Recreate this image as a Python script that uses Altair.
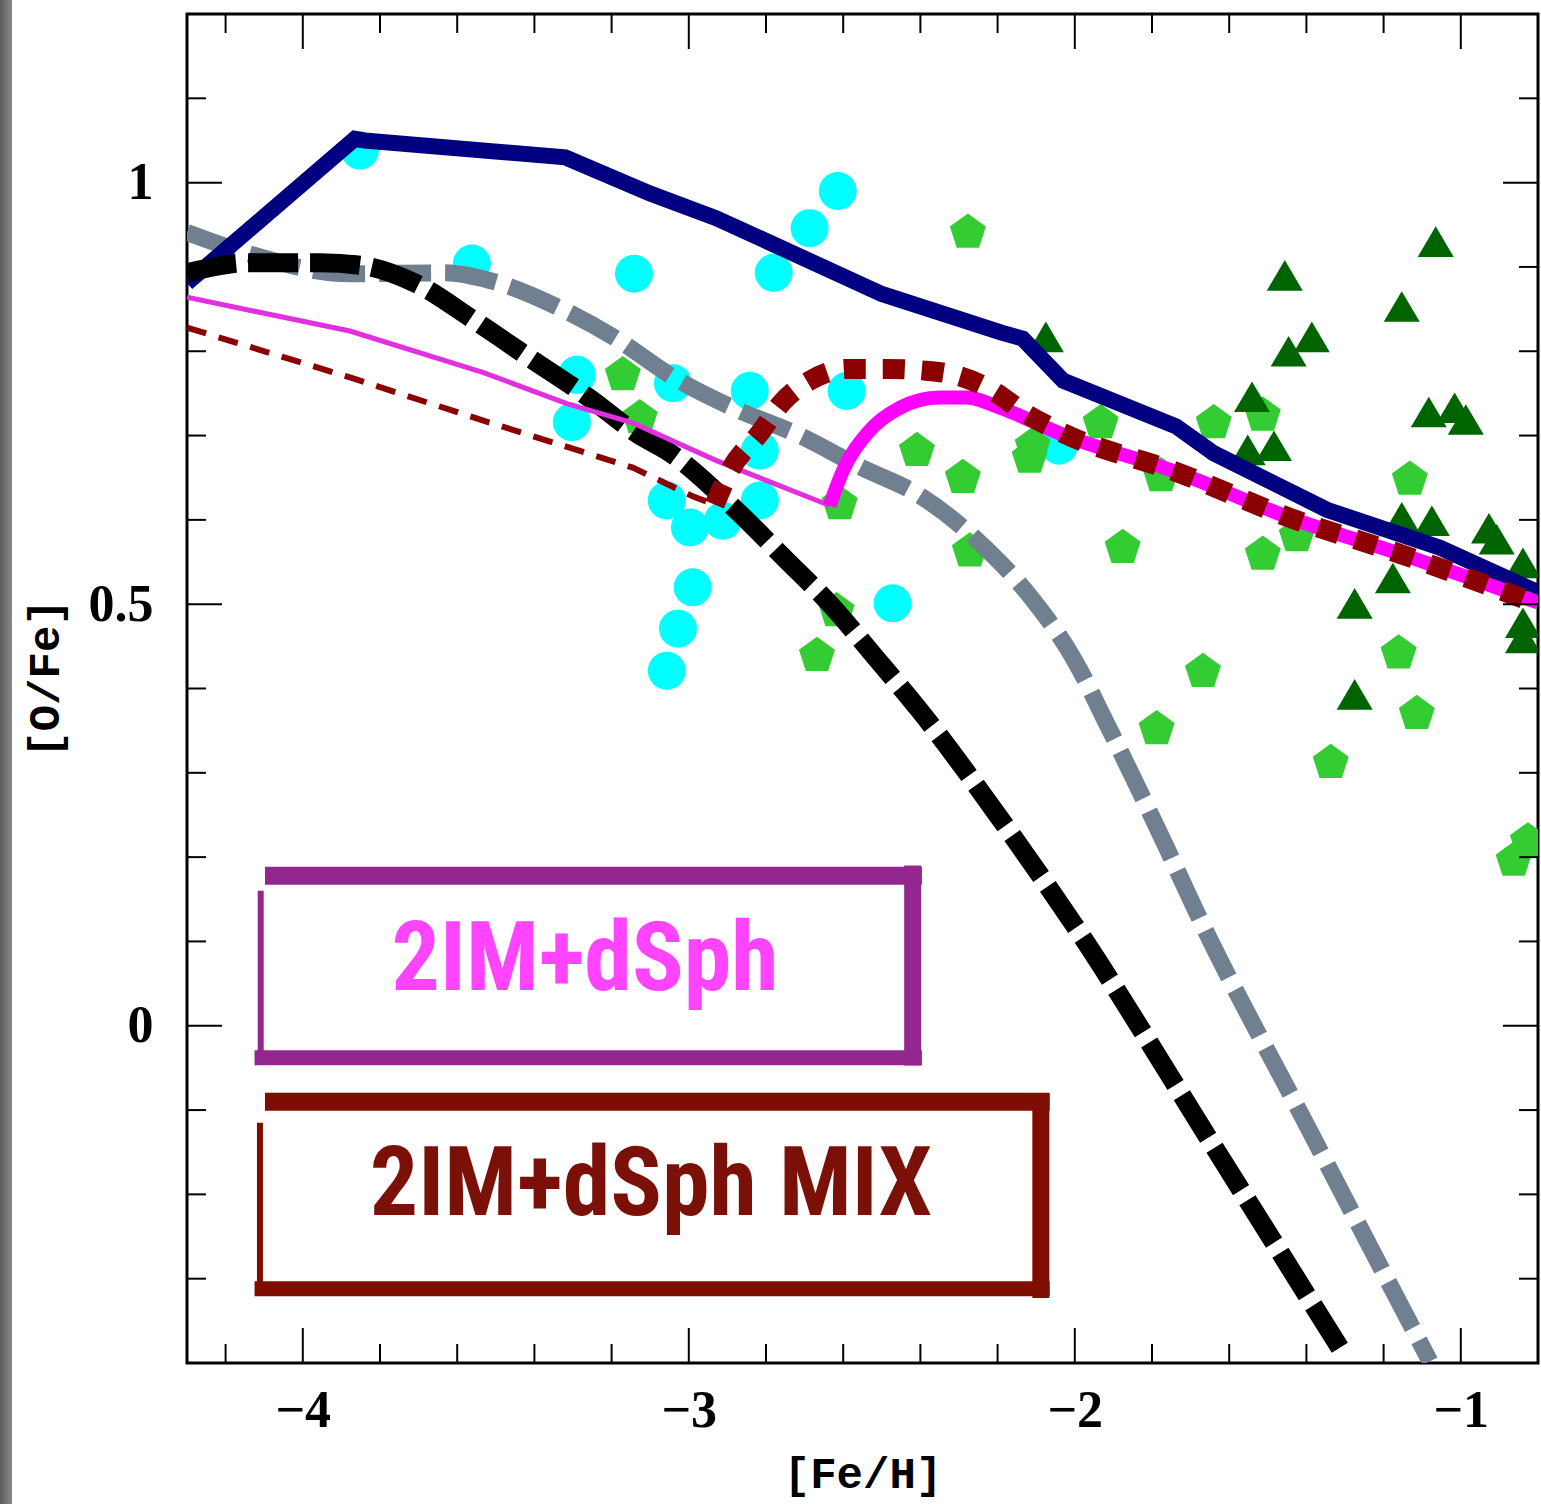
import altair as alt
import pandas as pd

# ---------------- data ----------------
NAVY_X = [-4.30, -3.865, -3.84, -3.32, -3.10, -2.93, -2.50, -2.19, -2.135, -2.03, -1.738, -1.640, -1.347, -1.054, -0.80]
NAVY_Y = [0.881, 1.052, 1.050, 1.030, 0.987, 0.958, 0.868, 0.822, 0.815, 0.765, 0.711, 0.679, 0.612, 0.567, 0.514]

GRAY_X = [-4.30, -4.163, -3.878, -3.632, -3.516, -3.347, -3.192, -3.036, -2.881, -2.712, -2.557, -2.402,
          -2.251, -2.117, -2.000, -1.917, -1.839, -1.762, -1.689, -1.391, -1.08]
GRAY_Y = [0.941, 0.919, 0.892, 0.893, 0.884, 0.854, 0.816, 0.768, 0.732, 0.700, 0.663, 0.629,
          0.575, 0.510, 0.433, 0.358, 0.285, 0.211, 0.139, -0.125, -0.398]

BLACK_X = [-4.30, -4.137, -3.956, -3.852, -3.710, -3.554, -3.412, -3.256, -3.127, -3.057, -2.876, -2.751,
           -2.630, -2.513, -2.402, -2.194, -1.992, -1.650, -1.301]
BLACK_Y = [0.893, 0.905, 0.905, 0.902, 0.881, 0.836, 0.792, 0.744, 0.700, 0.682, 0.611, 0.554,
           0.498, 0.435, 0.374, 0.246, 0.113, -0.136, -0.391]

MAG_THIN_X = [-4.30, -3.878, -3.534, -3.316, -3.145, -2.927, -2.668, -2.635]
MAG_THIN_Y = [0.864, 0.824, 0.775, 0.738, 0.715, 0.670, 0.623, 0.617]
MAG_THICK_X = [-2.635, -2.601, -2.539, -2.453, -2.350, -2.280, -2.194, -2.031, -1.738, -1.446, -1.153, -0.80]
MAG_THICK_Y = [0.617, 0.658, 0.702, 0.733, 0.745, 0.745, 0.733, 0.701, 0.657, 0.603, 0.559, 0.502]

RED_THIN_X = [-4.30, -3.878, -3.534, -3.145, -2.990, -2.933]
RED_THIN_Y = [0.828, 0.769, 0.718, 0.662, 0.628, 0.618]
RED_DOT_X = [-2.933, -2.894, -2.816, -2.759, -2.687, -2.591, -2.487, -2.389, -2.303, -2.212, -2.130,
             -2.031, -1.738, -1.446, -1.153, -0.80]
RED_DOT_Y = [0.618, 0.658, 0.703, 0.739, 0.765, 0.779, 0.779, 0.777, 0.771, 0.753, 0.727,
             0.703, 0.657, 0.603, 0.559, 0.500]

CYAN_X = [-3.852, -2.614, -2.687, -3.142, -2.780, -3.562, -3.290, -3.303, -3.041, -2.842, -2.591,
          -2.816, -3.057, -2.997, -2.912, -2.816, -2.990, -3.028, -3.057, -2.472, -2.041]
CYAN_Y = [1.038, 0.990, 0.946, 0.892, 0.893, 0.904, 0.772, 0.716, 0.762, 0.753, 0.753,
          0.682, 0.623, 0.591, 0.599, 0.623, 0.520, 0.471, 0.421, 0.501, 0.688]

PENT_X = [-2.277, -3.171, -3.127, -2.409, -2.290, -2.117, -2.609, -2.272, -2.617, -2.668, -1.933, -2.109,
          -1.640, -1.513, -1.777, -1.876, -1.513, -1.425, -1.132, -1.668, -1.161, -1.788, -1.114,
          -1.337, -0.826, -0.863]
PENT_Y = [0.941, 0.772, 0.721, 0.682, 0.650, 0.674, 0.619, 0.563, 0.492, 0.439, 0.715, 0.688,
          0.715, 0.724, 0.652, 0.567, 0.559, 0.581, 0.648, 0.420, 0.442, 0.352, 0.370,
          0.312, 0.219, 0.196]

TRI_X = [-1.456, -1.065, -1.153, -1.386, -1.446, -2.075, -1.541, -1.083, -1.016, -0.987, -1.552,
         -1.484, -1.153, -1.075, -0.927, -0.907, -0.839, -1.176, -1.275, -0.839, -0.839, -1.275]
TRI_Y = [0.890, 0.930, 0.853, 0.817, 0.800, 0.817, 0.746, 0.728, 0.733, 0.719, 0.683,
         0.688, 0.603, 0.599, 0.590, 0.577, 0.549, 0.531, 0.501, 0.478, 0.460, 0.393]

X_MAJOR = [-4, -3, -2, -1]
X_MINOR = [-4.2, -3.8, -3.6, -3.4, -3.2, -2.8, -2.6, -2.4, -2.2, -1.8, -1.6, -1.4, -1.2]
Y_MAJOR = [0, 0.5, 1]
Y_MINOR = [-0.3, -0.2, -0.1, 0.1, 0.2, 0.3, 0.4, 0.6, 0.7, 0.8, 0.9, 1.1]

LABEL1 = "2IM+dSph"
LABEL2 = "2IM+dSph MIX"
LABEL1_POS = (-3.269, 0.042)
LABEL2_POS = (-3.098, -0.225)

# box edges: (x, x2, y, y2)
BOX1_EDGES = [(-4.098, -2.396, 0.178, 0.178), (-2.420, -2.420, 0.190, -0.047),
              (-4.125, -2.396, -0.038, -0.038), (-4.109, -4.109, 0.160, -0.030)]
BOX2_EDGES = [(-4.098, -2.065, -0.090, -0.090), (-2.088, -2.088, -0.081, -0.323),
              (-4.125, -2.065, -0.312, -0.312), (-4.111, -4.111, -0.115, -0.305)]
EDGE_WIDTHS = [18, 17, 15, 6]

# ---------------- chart ----------------
W, H = 1351, 1349
xs = alt.Scale(domain=[-4.3, -0.8], nice=False, zero=False)
ys = alt.Scale(domain=[-0.4, 1.2], nice=False, zero=False)

x_axis = alt.Axis(values=X_MAJOR, format="~g", ticks=False, tickSize=0, domain=False, grid=False,
                  labelFont="Liberation Serif", labelFontWeight="bold", labelFontSize=52,
                  labelColor="black", labelPadding=22, title="[Fe/H]",
                  titleFont="Liberation Mono", titleFontWeight="bold", titleFontSize=44,
                  titleColor="black", titleBaseline="alphabetic", titleY=124)
y_axis = alt.Axis(values=Y_MAJOR, format="~g", ticks=False, tickSize=0, domain=False, grid=False,
                  labelFont="Liberation Serif", labelFontWeight="bold", labelFontSize=52,
                  labelColor="black", labelPadding=34, title="[O/Fe]",
                  titleFont="Liberation Mono", titleFontWeight="bold", titleFontSize=44,
                  titleColor="black", titleBaseline="alphabetic", titleX=-129, titleY=664)

X = lambda f="x": alt.X(f"{f}:Q", scale=xs, axis=x_axis)
Y = lambda f="y": alt.Y(f"{f}:Q", scale=ys, axis=y_axis)


def line(xv, yv, color, width, dash=None, smooth=False):
    df = pd.DataFrame({"x": xv, "y": yv, "o": list(range(len(xv)))})
    kw = dict(color=color, strokeWidth=width, clip=True, strokeCap="butt")
    if dash:
        kw["strokeDash"] = dash
    if smooth:
        kw["interpolate"] = "monotone"
    return alt.Chart(df).mark_line(**kw).encode(x=X(), y=Y(), order="o:Q")


def points(xv, yv, color, shape, size):
    df = pd.DataFrame({"x": xv, "y": yv})
    return alt.Chart(df).mark_point(filled=True, color=color, shape=shape, size=size,
                                    opacity=1, clip=True).encode(x=X(), y=Y())


PENTAGON = "M0,-1L0.951,-0.309L0.588,0.809L-0.588,0.809L-0.951,-0.309Z"
TRIANGLE = "M0,-0.85L1,0.85L-1,0.85Z"

layers = []

# left grey strip (page decoration)
layers.append(alt.Chart(pd.DataFrame({"a": [0]})).mark_rect(
    fill=alt.Gradient(gradient="linear", x1=0, x2=1, y1=0, y2=0,
                      stops=[alt.GradientStop(color="#5c5c60", offset=0),
                             alt.GradientStop(color="#8a8a8e", offset=1)])).encode(
    x=alt.value(-187), x2=alt.value(-175), y=alt.value(-14), y2=alt.value(1490)))

# scatter
layers.append(points(CYAN_X, CYAN_Y, "#00FFFF", "circle", 1444))
layers.append(points(PENT_X, PENT_Y, "#33CC33", PENTAGON, 1435))
layers.append(points(TRI_X, TRI_Y, "#006400", TRIANGLE, 1296))

# model lines
layers.append(line(GRAY_X, GRAY_Y, "#708090", 17, [52, 14], smooth=True))
layers.append(line(NAVY_X, NAVY_Y, "#000080", 16))
layers.append(line(BLACK_X, BLACK_Y, "black", 19, [50, 12], smooth=True))
layers.append(line(MAG_THIN_X, MAG_THIN_Y, "#E030E0", 5))
layers.append(line(MAG_THICK_X, MAG_THICK_Y, "#FF00FF", 14, smooth=True))
layers.append(line(RED_THIN_X, RED_THIN_Y, "#8B0000", 6, [20, 13]))
layers.append(line(RED_DOT_X, RED_DOT_Y, "#8B0000", 20, [22, 17], smooth=True))

# ticks (inward)
def xticks(vals, length):
    df = pd.DataFrame({"x": vals})
    top = alt.Chart(df).mark_rule(color="black", strokeWidth=2).encode(
        x=X(), y=alt.value(0), y2=alt.value(length))
    bot = alt.Chart(df).mark_rule(color="black", strokeWidth=2).encode(
        x=X(), y=alt.value(H), y2=alt.value(H - length))
    return [top, bot]


def yticks(vals, length):
    df = pd.DataFrame({"y": vals})
    left = alt.Chart(df).mark_rule(color="black", strokeWidth=2).encode(
        y=Y(), x=alt.value(0), x2=alt.value(length))
    right = alt.Chart(df).mark_rule(color="black", strokeWidth=2).encode(
        y=Y(), x=alt.value(W), x2=alt.value(W - length))
    return [left, right]


layers += xticks(X_MAJOR, 35) + xticks(X_MINOR, 19) + yticks(Y_MAJOR, 35) + yticks(Y_MINOR, 19)

# legend boxes
for edges, color in [(BOX1_EDGES, "#93278F"), (BOX2_EDGES, "#800E00")]:
    for (x1, x2, y1, y2), w in zip(edges, EDGE_WIDTHS):
        df = pd.DataFrame({"x": [x1], "x2": [x2], "y": [y1], "y2": [y2]})
        layers.append(alt.Chart(df).mark_rule(color=color, strokeWidth=w).encode(
            x=X(), x2="x2:Q", y=Y(), y2="y2:Q"))

LEG_FONT = ("Noto Sans ExtraCondensed, Noto Sans Condensed, Roboto Condensed, "
            "Liberation Sans Narrow, DejaVu Sans Condensed, sans-serif")
for txt, (lx, ly), color in [(LABEL1, LABEL1_POS, "#FF44FF"), (LABEL2, LABEL2_POS, "#7A1008")]:
    df = pd.DataFrame({"x": [lx], "y": [ly], "t": [txt]})
    layers.append(alt.Chart(df).mark_text(font=LEG_FONT, fontSize=96, fontWeight="bold",
                                          color=color, baseline="alphabetic", align="center").encode(
        x=X(), y=Y(), text="t:N"))

chart = alt.layer(*layers).properties(
    width=W, height=H,
    autosize=alt.AutoSizeParams(type="none"),
    padding={"left": 187, "top": 14, "right": 3, "bottom": 141},
    background="white",
).configure_view(stroke="black", strokeWidth=3)

chart.save("out.html", embed_options={"renderer": "svg", "actions": False})
